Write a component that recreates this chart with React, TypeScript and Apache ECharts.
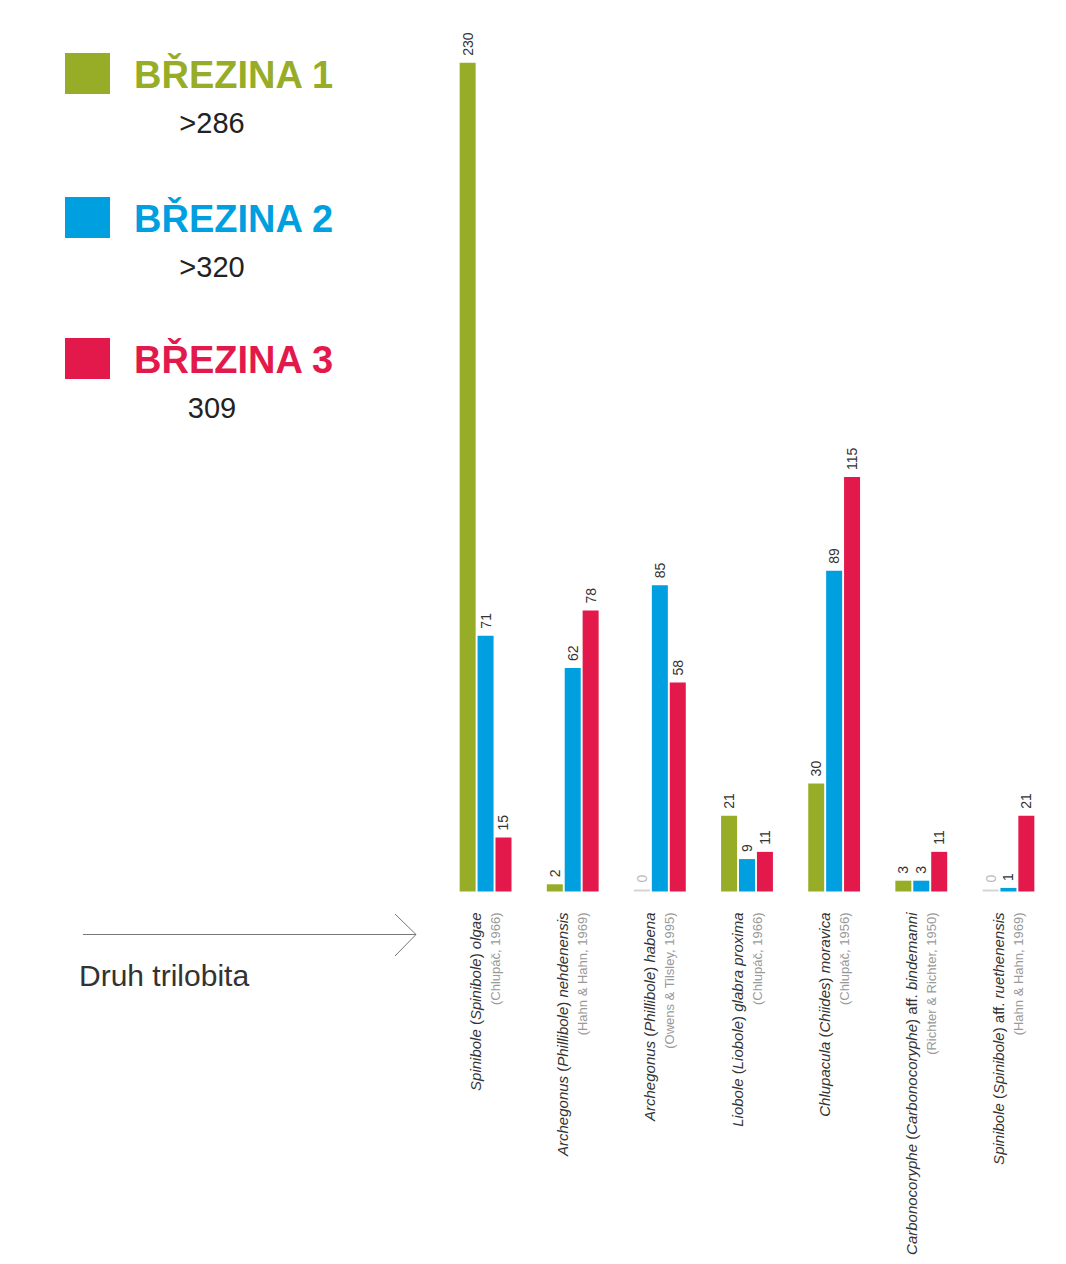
import React, { useEffect, useRef } from "react";
import * as echarts from "echarts";

const speciesNames = [
  "Spinibole (Spinibole) olgae",
  "Archegonus (Phillibole) nehdenensis",
  "Archegonus (Phillibole) habena",
  "Liobole (Liobole) glabra proxima",
  "Chlupacula (Chiides) moravica",
  "Carbonocoryphe (Carbonocoryphe) aff. bindemanni",
  "Spinibole (Spinibole) aff. ruethenensis",
];
const authors = [
  "(Chlupáč, 1966)",
  "(Hahn & Hahn, 1969)",
  "(Owens & Tilsley, 1995)",
  "(Chlupáč, 1966)",
  "(Chlupáč, 1956)",
  "(Richter & Richter, 1950)",
  "(Hahn & Hahn, 1969)",
];
const seriesNames = ["BŘEZINA 1", "BŘEZINA 2", "BŘEZINA 3"];
const seriesTotals = [">286", ">320", "309"];
const brezina1 = [230, 2, 0, 21, 30, 3, 0];
const brezina2 = [71, 62, 85, 9, 89, 3, 1];
const brezina3 = [15, 78, 58, 11, 115, 11, 21];
const seriesValues = [brezina1, brezina2, brezina3];
const seriesColors = ["#97ad28", "#009fe0", "#e3194b"];
const axisTitle = "Druh trilobita";

const FONT = "'Liberation Sans', Arial, sans-serif";

function richSpecies(name: string): string {
  return name
    .split(" ")
    .map((w) => {
      if (w === "aff.") return "{n|aff.}";
      if (w.startsWith("(") && w.endsWith(")")) {
        return "{n|(}{i|" + w.slice(1, -1) + "}{n|)}";
      }
      return "{i|" + w + "}";
    })
    .join("{n| }");
}

export default function App() {
  const ref = useRef<HTMLDivElement>(null);
  useEffect(() => {
    if (!ref.current) return;
    const chart = echarts.init(ref.current, undefined, { renderer: "svg" });

    const legendTops = [53, 197, 338];
    const graphics: any[] = [];
    seriesNames.forEach((name, i) => {
      const top = legendTops[i];
      graphics.push({
        type: "rect",
        shape: { x: 65, y: top, width: 45, height: 41 },
        style: { fill: seriesColors[i] },
      });
      graphics.push({
        type: "text",
        x: 134,
        y: top + 22,
        style: {
          text: name,
          fill: seriesColors[i],
          fontSize: 38,
          fontWeight: "bold",
          fontFamily: FONT,
          textAlign: "left",
          textVerticalAlign: "middle",
        },
      });
      graphics.push({
        type: "text",
        x: 212,
        y: top + 70,
        style: {
          text: seriesTotals[i],
          fill: "#222",
          fontSize: 29,
          fontFamily: FONT,
          textAlign: "center",
          textVerticalAlign: "middle",
        },
      });
    });
    graphics.push({
      type: "line",
      shape: { x1: 83, y1: 934.5, x2: 416, y2: 934.5 },
      style: { stroke: "#777", lineWidth: 1 },
    });
    graphics.push({
      type: "polyline",
      shape: { points: [[395, 914], [416, 934.5], [395, 956]] },
      style: { stroke: "#777", lineWidth: 1, fill: null },
    });
    graphics.push({
      type: "text",
      x: 79,
      y: 975,
      style: {
        text: axisTitle,
        fill: "#333",
        fontSize: 30,
        fontFamily: FONT,
        textAlign: "left",
        textVerticalAlign: "middle",
      },
    });

    const option: any = {
      animation: false,
      backgroundColor: "#ffffff",
      textStyle: { fontFamily: FONT },
      grid: { left: 442, right: 14, top: 62.7, bottom: 372.5, containLabel: false },
      xAxis: {
        type: "category",
        data: speciesNames,
        axisLine: { show: false },
        axisTick: { show: false },
        splitLine: { show: false },
        axisLabel: {
          interval: 0,
          rotate: 90,
          margin: 21,
          fontSize: 15,
          fontFamily: FONT,
          color: "#333",
          formatter: (value: string, index: number) =>
            richSpecies(value) + "\n{a|" + authors[index] + "}",
          rich: {
            i: { fontStyle: "italic", fontSize: 15, color: "#333", lineHeight: 20, fontFamily: FONT },
            n: { fontStyle: "normal", fontSize: 15, color: "#333", lineHeight: 20, fontFamily: FONT },
            a: { fontSize: 13, color: "#999", lineHeight: 20, fontFamily: FONT },
          },
        },
      },
      yAxis: {
        type: "value",
        min: 0,
        max: 230,
        show: false,
        splitLine: { show: false },
      },
      series: seriesNames.map((name, si) => ({
        type: "bar",
        name,
        barWidth: 16,
        barGap: "12%",
        barMinHeight: 2,
        itemStyle: { color: seriesColors[si] },
        label: {
          show: true,
          position: "top",
          rotate: 90,
          align: "left",
          verticalAlign: "middle",
          distance: 7,
          fontSize: 14,
          fontFamily: FONT,
          color: "#333",
        },
        data: seriesValues[si].map((v) =>
          v === 0
            ? { value: 0, itemStyle: { color: "#d4d4d4" }, label: { color: "#bbb" } }
            : v
        ),
      })),
      graphic: graphics,
    };
    chart.setOption(option);
    return () => chart.dispose();
  }, []);
  return (
    <div
      ref={ref}
      style={{ position: "absolute", left: 0, top: 0, width: 1066, height: 1264 }}
    />
  );
}
